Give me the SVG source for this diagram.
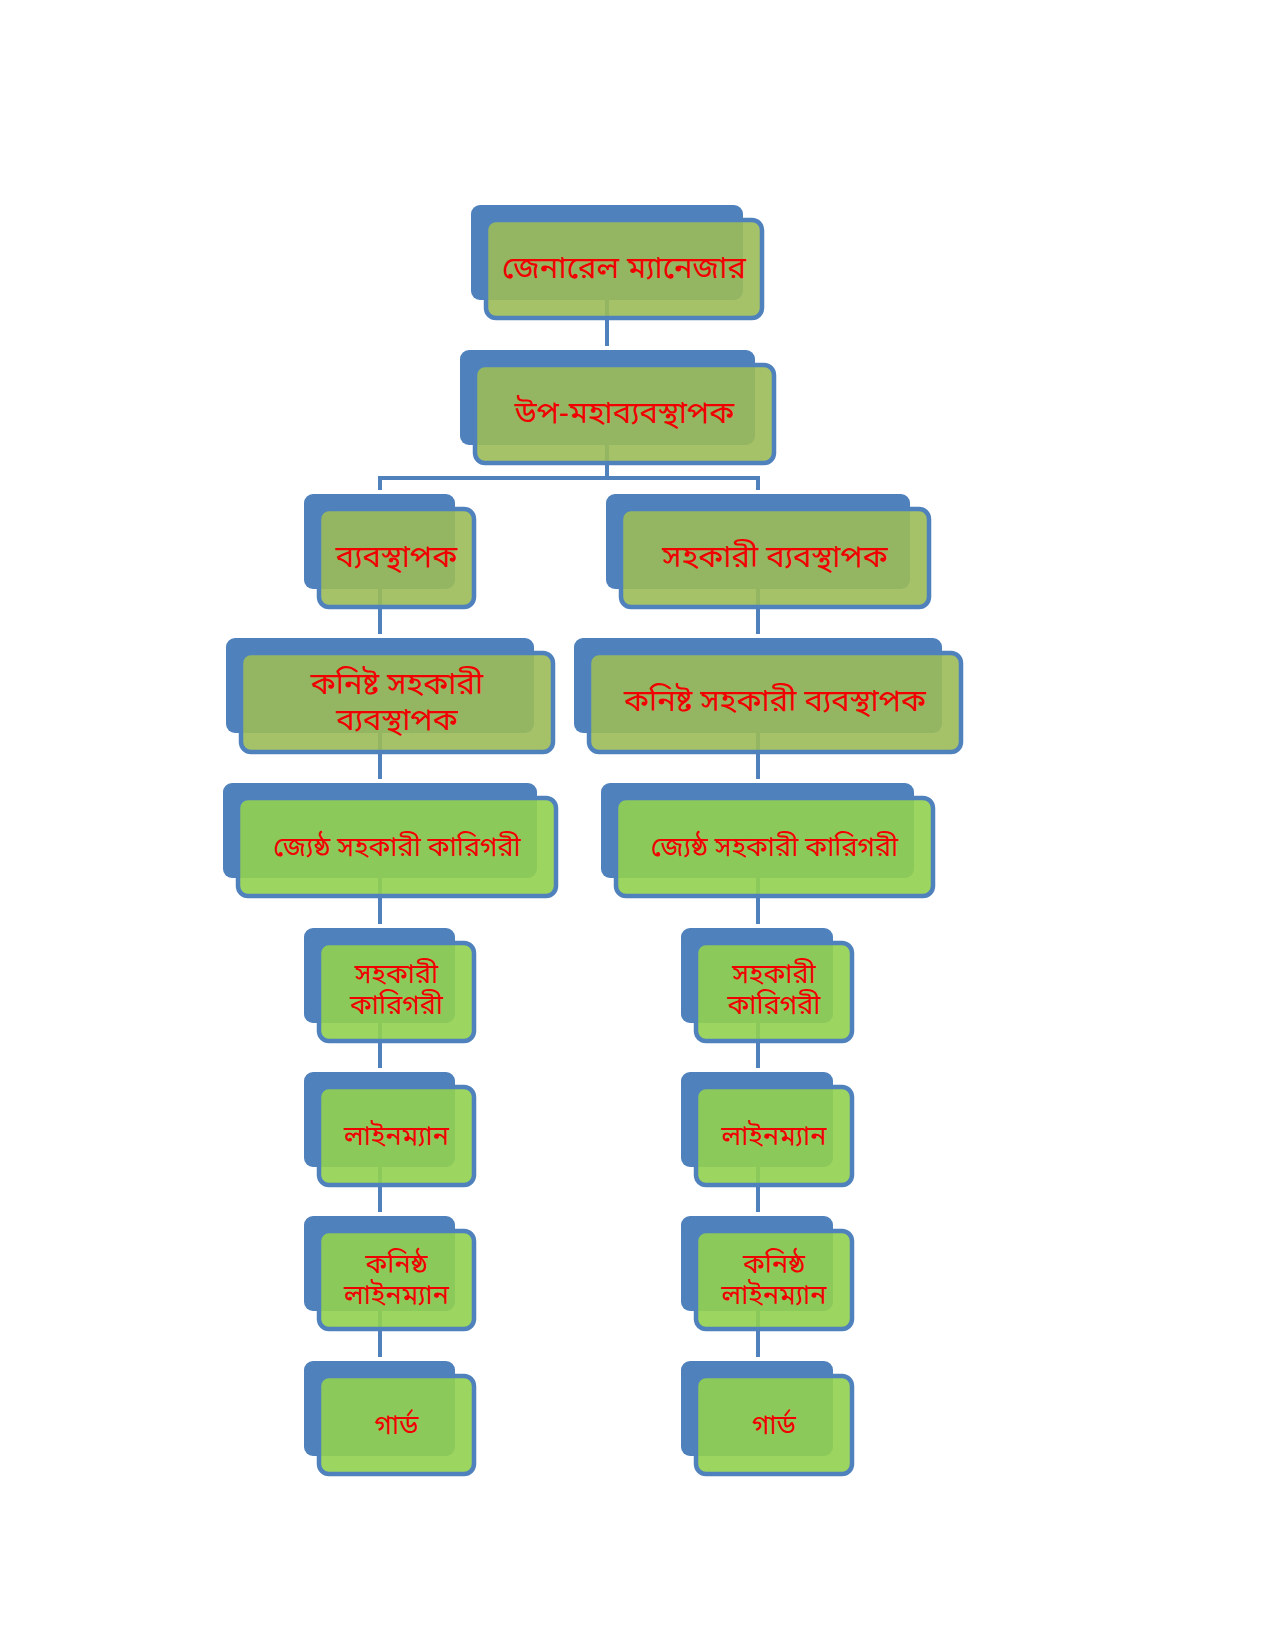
<svg xmlns="http://www.w3.org/2000/svg" width="1275" height="1650" viewBox="0 0 1275 1650">
<style>
.back{fill:#4f81bd}
.olive{fill:#9bbb59;fill-opacity:0.9;stroke:#4f81bd;stroke-width:4.5}
.green{fill:#92d050;fill-opacity:0.9;stroke:#4f81bd;stroke-width:4.5}
.conn{fill:none;stroke:#4f81bd;stroke-width:4}
.t{font-family:"Noto Sans Bengali","Noto Sans","Liberation Sans",sans-serif;fill:#f00000;text-anchor:middle}
.big{font-size:31px}
.small{font-size:27px}
</style>
<rect width="1275" height="1650" fill="#fff"/>
<g id="connectors">
<path class="conn" d="M607 300V346"/>
<path class="conn" d="M607 445V478M380 490V478H758V490"/>
<path class="conn" d="M380 589V634M758 589V634"/>
<path class="conn" d="M380 733V779M758 733V779"/>
<path class="conn" d="M380 878V924M758 878V924"/>
<path class="conn" d="M380 1023V1068M758 1023V1068"/>
<path class="conn" d="M380 1167V1212M758 1167V1212"/>
<path class="conn" d="M380 1311V1357M758 1311V1357"/>
</g>
<g id="n1">
<rect class="back" x="471" y="205" width="272" height="95" rx="9"/>
<rect class="olive" x="486" y="220" width="276" height="98" rx="10"/>
<text class="t big" x="624" y="278">জেনারেল ম্যানেজার</text>
</g>
<g id="n2">
<rect class="back" x="460" y="350" width="295" height="95" rx="9"/>
<rect class="olive" x="475" y="365" width="299" height="98" rx="10"/>
<text class="t big" x="624.5" y="423">উপ-মহাব্যবস্থাপক</text>
</g>
<g id="n3L">
<rect class="back" x="304" y="494" width="151" height="95" rx="9"/>
<rect class="olive" x="319" y="509" width="155" height="98" rx="10"/>
<text class="t big" x="396.5" y="567">ব্যবস্থাপক</text>
</g>
<g id="n3R">
<rect class="back" x="606" y="494" width="304" height="95" rx="9"/>
<rect class="olive" x="621" y="509" width="308" height="98" rx="10"/>
<text class="t big" x="775" y="567">সহকারী ব্যবস্থাপক</text>
</g>
<g id="n4L">
<rect class="back" x="226" y="638" width="308" height="95" rx="9"/>
<rect class="olive" x="241" y="653" width="312" height="99" rx="10"/>
<text class="t big" x="397" y="694">কনিষ্ট সহকারী</text>
<text class="t big" x="397" y="730">ব্যবস্থাপক</text>
</g>
<g id="n4R">
<rect class="back" x="574" y="638" width="368" height="95" rx="9"/>
<rect class="olive" x="589" y="653" width="372" height="99" rx="10"/>
<text class="t big" x="775" y="711">কনিষ্ট সহকারী ব্যবস্থাপক</text>
</g>
<g id="n5L">
<rect class="back" x="223" y="783" width="314" height="95" rx="9"/>
<rect class="green" x="238" y="798" width="318" height="98" rx="10"/>
<text class="t small" x="397" y="856">জ্যেষ্ঠ সহকারী কারিগরী</text>
</g>
<g id="n5R">
<rect class="back" x="601" y="783" width="313" height="95" rx="9"/>
<rect class="green" x="616" y="798" width="317" height="98" rx="10"/>
<text class="t small" x="774.5" y="856">জ্যেষ্ঠ সহকারী কারিগরী</text>
</g>
<g id="n6L">
<rect class="back" x="304" y="928" width="151" height="95" rx="9"/>
<rect class="green" x="319" y="943" width="155" height="98" rx="10"/>
<text class="t small" x="396.5" y="983">সহকারী</text>
<text class="t small" x="396.5" y="1014">কারিগরী</text>
</g>
<g id="n6R">
<rect class="back" x="681" y="928" width="152" height="95" rx="9"/>
<rect class="green" x="696" y="943" width="156" height="98" rx="10"/>
<text class="t small" x="774" y="983">সহকারী</text>
<text class="t small" x="774" y="1014">কারিগরী</text>
</g>
<g id="n7L">
<rect class="back" x="304" y="1072" width="151" height="95" rx="9"/>
<rect class="green" x="319" y="1087" width="155" height="98" rx="10"/>
<text class="t small" x="396.5" y="1145">লাইনম্যান</text>
</g>
<g id="n7R">
<rect class="back" x="681" y="1072" width="152" height="95" rx="9"/>
<rect class="green" x="696" y="1087" width="156" height="98" rx="10"/>
<text class="t small" x="774" y="1145">লাইনম্যান</text>
</g>
<g id="n8L">
<rect class="back" x="304" y="1216" width="151" height="95" rx="9"/>
<rect class="green" x="319" y="1231" width="155" height="98" rx="10"/>
<text class="t small" x="396.5" y="1273">কনিষ্ঠ</text>
<text class="t small" x="396.5" y="1304">লাইনম্যান</text>
</g>
<g id="n8R">
<rect class="back" x="681" y="1216" width="152" height="95" rx="9"/>
<rect class="green" x="696" y="1231" width="156" height="98" rx="10"/>
<text class="t small" x="774" y="1273">কনিষ্ঠ</text>
<text class="t small" x="774" y="1304">লাইনম্যান</text>
</g>
<g id="n9L">
<rect class="back" x="304" y="1361" width="151" height="95" rx="9"/>
<rect class="green" x="319" y="1376" width="155" height="98" rx="10"/>
<text class="t small" x="396.5" y="1434">গার্ড</text>
</g>
<g id="n9R">
<rect class="back" x="681" y="1361" width="152" height="95" rx="9"/>
<rect class="green" x="696" y="1376" width="156" height="98" rx="10"/>
<text class="t small" x="774" y="1434">গার্ড</text>
</g>
</svg>
